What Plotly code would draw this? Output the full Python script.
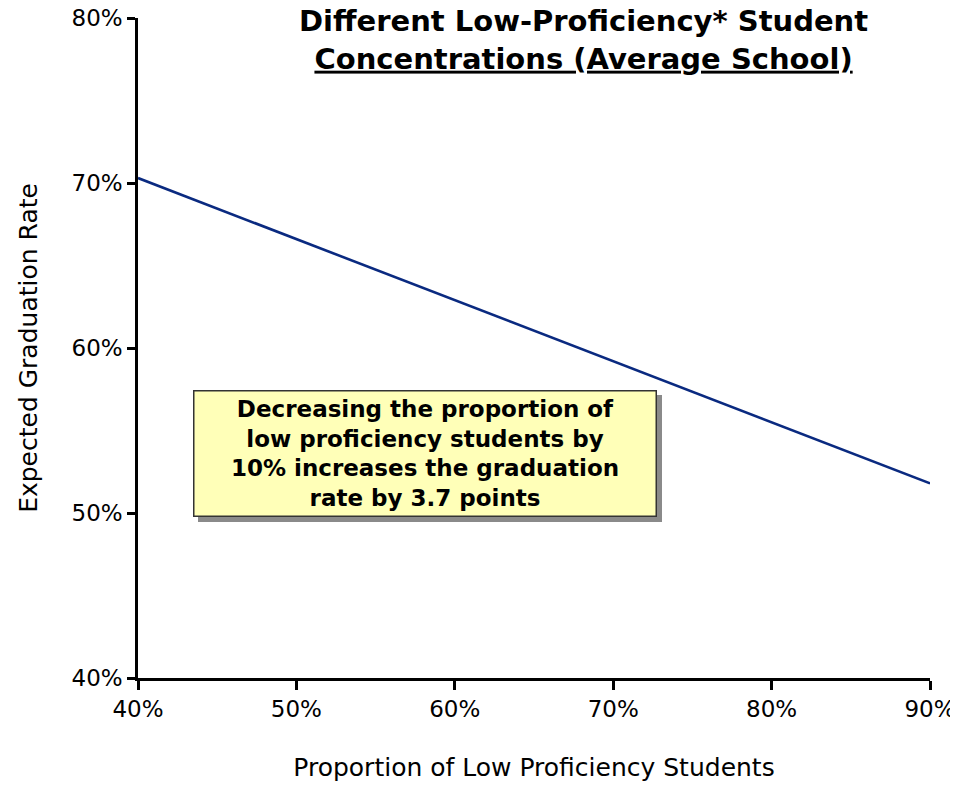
import plotly.graph_objects as go

# Data
proportion_low = [40, 90]          # % low proficiency students
grad_rate = [70.3, 51.8]           # expected graduation rate %
x_ticks = [40, 50, 60, 70, 80, 90]
x_labels = ["40%", "50%", "60%", "70%", "80%", "90%"]
y_ticks = [40, 50, 60, 70, 80]
y_labels = ["40%", "50%", "60%", "70%", "80%"]

title_text = "<b>Different Low-Proficiency* Student<br><u>Concentrations (Average School)</u></b>"
x_title = "Proportion of Low Proficiency Students"
y_title = "Expected Graduation Rate"
note_text = ("<b>Decreasing the proportion of<br>low proficiency students by<br>"
             "10% increases the graduation<br>rate by 3.7 points</b>")

FONT = "DejaVu Sans"

fig = go.Figure()
fig.add_trace(go.Scatter(
    x=proportion_low, y=grad_rate, mode="lines",
    line=dict(color="#0a2a80", width=2.6), showlegend=False, hoverinfo="skip"))

# Title as annotation
fig.add_annotation(x=0.563, y=0.967, xref="paper", yref="paper", text=title_text,
                   showarrow=False, xanchor="center", yanchor="middle", align="center",
                   borderpad=0, font=dict(family=FONT, size=29, color="black"))

note_x, note_y = 58.1, 53.6
box = dict(width=455, height=118, borderpad=3, borderwidth=1.5, align="center",
           showarrow=False, xref="x", yref="y", x=note_x, y=note_y, text=note_text)
# shadow
fig.add_annotation(**box, font=dict(family=FONT, size=23, color="rgba(0,0,0,0)"),
                   bgcolor="#8a8a8a", bordercolor="#8a8a8a", xshift=5, yshift=-5)
fig.add_annotation(**box, font=dict(family=FONT, size=23, color="black"),
                   bgcolor="#FFFFB8", bordercolor="#333333")

fig.update_layout(
    width=950, height=774,
    margin=dict(l=130, r=28, t=10, b=104),
    paper_bgcolor="white", plot_bgcolor="white",
    font=dict(family=FONT, size=23, color="black"),
    xaxis=dict(range=[40, 90], tickvals=x_ticks, ticktext=x_labels, automargin=False,
               showgrid=False, zeroline=False, showline=True, linecolor="black",
               linewidth=2.5, ticks="outside", ticklen=9, tickwidth=2.5, tickcolor="black",
               tickfont=dict(size=23), ticklabeloverflow="allow",
               title=dict(text=x_title, font=dict(size=25), standoff=46)),
    yaxis=dict(range=[40, 80], tickvals=y_ticks, ticktext=y_labels, automargin=False,
               showgrid=False, zeroline=False, showline=True, linecolor="black",
               linewidth=2.5, ticks="outside", ticklen=8, tickwidth=2.5, tickcolor="black",
               tickfont=dict(size=23), ticklabeloverflow="allow",
               title=dict(text=y_title, font=dict(size=25), standoff=27)),
)

fig.write_html("out.html")
